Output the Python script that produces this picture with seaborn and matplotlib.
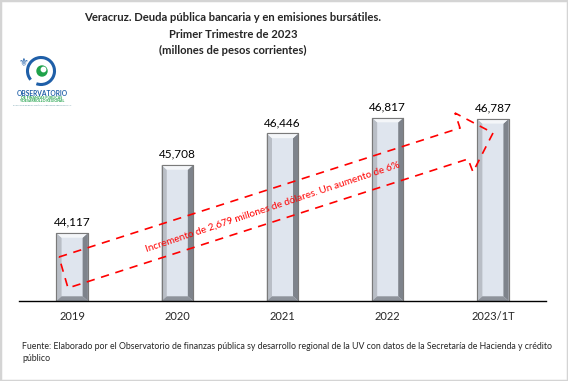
import pandas as pd
import seaborn as sns
import matplotlib.pyplot as plt
from matplotlib.patches import Polygon, Rectangle, Circle, Arc


years = ['2019', '2020', '2021', '2022', '2023/1T']
deuda = [44117, 45708, 46446, 46817, 46787]

title = ("Veracruz. Deuda pública bancaria y en emisiones bursátiles.\n"
         "Primer Trimestre de 2023\n(millones de pesos corrientes)")
arrow_text = "Incremento de 2,679 millones de dólares. Un aumento de 6%"
fuente = ("Fuente: Elaborado por el Observatorio de finanzas pública sy desarrollo regional "
          "de la UV con datos de la Secretaría de Hacienda y crédito\npúblico")

df = pd.DataFrame({'anio': years, 'deuda': deuda})

sns.set_style("white")
plt.rcParams['font.family'] = ['Lato', 'DejaVu Sans']

W, H = 568, 381
fig = plt.figure(figsize=(W / 100, H / 100), dpi=100)


def px(x, y):
    return (x / W, 1 - y / H)


# marco gris de la imagen
fig.patches.append(Rectangle((0, 0), 1, 1, transform=fig.transFigure, fill=False,
                             edgecolor='#d4d4d4', lw=2.5))

ax = fig.add_axes([19.5 / W, 1 - 301 / H, 526 / W, 205 / H])
sns.barplot(data=df, x='anio', y='deuda', ax=ax, width=0.3, color='#dfe5ee',
            edgecolor='#8a8a8a', linewidth=0.8, saturation=1)
ax.set_ylim(42526, 47323)
ax.set_xlim(-0.5, len(years) - 0.5)

# efecto biselado
dx = 0.05
dy = 110
for p in ax.patches:
    x0, y0 = p.get_x(), 42526
    x1, y1 = x0 + p.get_width(), p.get_height()
    faces = [
        ([(x0, y0), (x0 + dx, y0 + dy), (x0 + dx, y1 - dy), (x0, y1)], '#b9bec6'),
        ([(x1, y0), (x1 - dx, y0 + dy), (x1 - dx, y1 - dy), (x1, y1)], '#7e838b'),
        ([(x0, y1), (x0 + dx, y1 - dy), (x1 - dx, y1 - dy), (x1, y1)], '#f4f6f9'),
        ([(x0, y0), (x0 + dx, y0 + dy), (x1 - dx, y0 + dy), (x1, y0)], '#8e939b'),
    ]
    for pts, c in faces:
        ax.add_patch(Polygon(pts, closed=True, facecolor=c, edgecolor='none', zorder=3))
    ax.add_patch(Rectangle((x0, y0), x1 - x0, y1 - y0, fill=False,
                           edgecolor='#7a7a7a', lw=0.8, zorder=4))

ax.bar_label(ax.containers[0], labels=[f'{v:,}' for v in deuda], padding=4,
             fontsize=8.5, color='black')

sns.despine(ax=ax, left=True, top=True, right=True)
ax.spines['bottom'].set_color('black')
ax.spines['bottom'].set_linewidth(1.0)
ax.spines['bottom'].set_zorder(5)
ax.set_yticks([])
ax.set_xlabel('')
ax.set_ylabel('')
ax.tick_params(axis='x', length=0, pad=7, labelsize=8)
ax.patch.set_alpha(0)

# titulo
fig.text(233 / W, 1 - 12 / H, title, ha='center', va='top', fontsize=8.1,
         fontweight='bold', linespacing=1.62)

# flecha roja discontinua
arrow_px = [(59, 257), (460, 128), (455, 113), (493, 133), (473, 172), (468, 159), (68, 288)]
fig.patches.append(Polygon([px(x, y) for x, y in arrow_px], closed=True,
                           transform=fig.transFigure, fill=False, edgecolor='#ff0000',
                           lw=1.2, linestyle=(0, (5, 4)), zorder=10))
fig.text(273 / W, 1 - 207 / H, arrow_text, ha='center', va='center', rotation=18.5,
         fontsize=7.2, color='#ff0000', rotation_mode='anchor')

# logo aproximado
lax = fig.add_axes([10 / W, 1 - 110 / H, 70 / W, 60 / H])
lax.set_xlim(10, 80)
lax.set_ylim(110, 50)
lax.axis('off')
lax.add_patch(Arc((41, 71), 27, 27, theta1=140, theta2=470, color='#1f5fa8', lw=2.2))
lax.add_patch(Circle((42, 71), 5, color='#1fa24a'))
lax.add_patch(Circle((43.5, 69.5), 2.2, color='white'))
lax.text(24, 63, '⚜', fontsize=8, color='#1f5fa8', ha='center', va='center',
         family=['DejaVu Sans'])
lax.text(42, 93, 'OBSERVATORIO', fontsize=4.8, fontweight='bold', color='#1f5fa8',
         ha='center', va='center')
lax.text(42, 97.5, 'DE FINANZAS PÚBLICAS', fontsize=2.6, color='#1fa24a',
         ha='center', va='center', fontweight='bold')
lax.text(42, 101, 'Y DESARROLLO REGIONAL', fontsize=2.6, color='#1fa24a',
         ha='center', va='center', fontweight='bold')
lax.text(42, 104.5, 'FACULTAD DE ECONOMÍA UNIVERSIDAD VERACRUZANA', fontsize=1.5,
         color='#5a8f9e', ha='center', va='center')

# fuente
fig.text(22 / W, 1 - 342 / H, fuente, ha='left', va='top', fontsize=6.3,
         linespacing=1.4)

fig.savefig('out.png', dpi=100)
